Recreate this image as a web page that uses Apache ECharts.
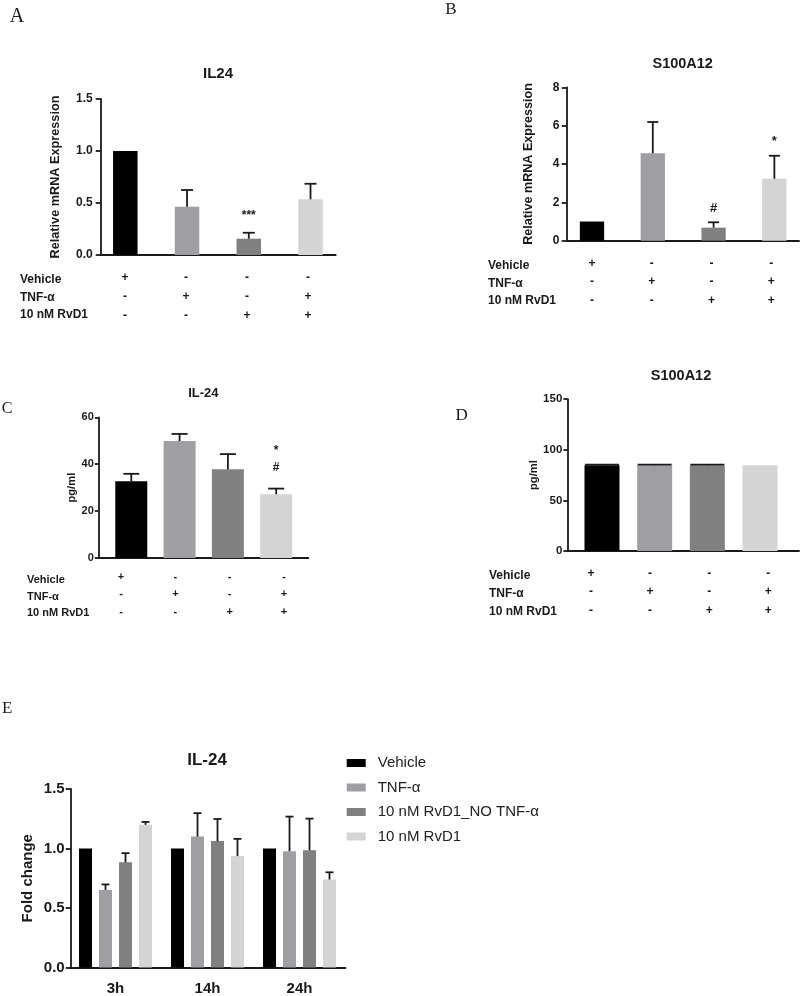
<!DOCTYPE html>
<html><head><meta charset="utf-8">
<script src="https://cdn.jsdelivr.net/npm/echarts@6/dist/echarts.min.js"></script>
<style>html,body{margin:0;padding:0;background:#fff}#c{width:800px;height:996px}</style>
</head><body><div id="c"></div>
<script>
// ---------- data ----------
const conditions = ['Vehicle', 'TNF-α', '10 nM RvD1'];
const vehicleSigns = ['+', '-', '-', '-'];
const tnfSigns = ['-', '+', '-', '+'];
const rvd1Signs = ['-', '-', '+', '+'];

const aValues = [1.0, 0.465, 0.157, 0.535];
const aErrors = [0, 0.16, 0.057, 0.15];
const aMarks = ['', '', '***', ''];

const bValues = [1.0, 4.56, 0.68, 3.23];
const bErrors = [0, 1.63, 0.28, 1.2];
const bMarks = ['', '', '#', '*'];

const cValues = [32.7, 49.9, 37.8, 27.2];
const cErrors = [3.2, 3.0, 6.5, 2.4];
const cMarks = ['', '', '', '*\n#'];

const dValues = [84.7, 84.7, 84.7, 84.7];
const dErrors = [0.6, 0.6, 0.6, 0];
const dMarks = ['', '', '', ''];

const eGroups = ['3h', '14h', '24h'];
const eSeriesNames = ['Vehicle', 'TNF-α', '10 nM RvD1_NO TNF-α', '10 nM RvD1'];
const eVehicle = [1.0, 1.0, 1.0];
const eTnf = [0.652, 1.10, 0.977];
const eNoTnf = [0.884, 1.062, 0.985];
const eRvd1 = [1.199, 0.936, 0.739];
const eVehicleErr = [0, 0, 0];
const eTnfErr = [0.046, 0.197, 0.291];
const eNoTnfErr = [0.077, 0.186, 0.266];
const eRvd1Err = [0.024, 0.145, 0.061];

// ---------- styles / layout ----------
const barColors = ['#000000', '#9e9fa3', '#808080', '#d4d4d4'];
const FONT = "'Liberation Sans', Arial, Helvetica, sans-serif";
const SERIF = "'Liberation Serif', 'Times New Roman', serif";
const INK = '#1a1a1a';

const panels = [
  { key: 'A', grid: {left: 100.7, top: 99, width: 235, height: 156},
    barMin: -0.3985, barMax: 3.408, tableMin: -0.398, tableMax: 3.454,
    yMax: 1.5, yInt: 0.5, yDec: 1, barWidth: 24.5, cap: 12, tickLen: 5, tickFont: 12, labelMargin: 8,
    yName: 'Relative mRNA Expression', nameFont: 12.7, nameGap: 38.7,
    tableFont: 12, tableLH: 19, tableMargin: 13, markFont: 12, markGap: 10, markLH: 14,
    values: aValues, errors: aErrors, marks: aMarks,
    title: 'IL24', titleX: 218, titleY: 74.2, titleFont: 15,
    letter: 'A', letterX: 17, letterY: 16.3, letterFont: 20,
    rowX: 20, rowY: [280, 297.5, 315], rowFont: 12 },
  { key: 'B', grid: {left: 566.7, top: 87.3, width: 232.3, height: 153.4},
    barMin: -0.416, barMax: 3.405, tableMin: -0.423, tableMax: 3.463,
    yMax: 8, yInt: 2, yDec: 0, barWidth: 24.3, cap: 11, tickLen: 5, tickFont: 12, labelMargin: 7.4,
    yName: 'Relative mRNA Expression', nameFont: 12.6, nameGap: 32,
    tableFont: 12, tableLH: 18.5, tableMargin: 13.5, markFont: 13, markGap: 7, markLH: 14,
    values: bValues, errors: bErrors, marks: bMarks,
    title: 'S100A12', titleX: 682.7, titleY: 63.6, titleFont: 14.5,
    letter: 'B', letterX: 451, letterY: 9.5, letterFont: 17,
    rowX: 488, rowY: [265.7, 283.3, 301], rowFont: 12 },
  { key: 'C', grid: {left: 98.3, top: 417.3, width: 210, height: 140.7},
    barMin: -0.683, barMax: 3.665, tableMin: -0.418, tableMax: 3.447,
    yMax: 60, yInt: 20, yDec: 0, barWidth: 32, cap: 16, tickLen: 3.5, tickFont: 11, labelMargin: 4.5,
    yName: 'pg/ml', nameFont: 11.2, nameGap: 20,
    tableFont: 11, tableLH: 17.7, tableMargin: 9.9, markFont: 12, markGap: 12, markLH: 17,
    values: cValues, errors: cErrors, marks: cMarks,
    title: 'IL-24', titleX: 203.3, titleY: 393.5, titleFont: 13,
    letter: 'C', letterX: 7, letterY: 408.7, letterFont: 16,
    rowX: 27, rowY: [580, 596.5, 613], rowFont: 11 },
  { key: 'D', grid: {left: 567.7, top: 399.2, width: 231.3, height: 151.8},
    barMin: -0.651, barMax: 3.74, tableMin: -0.394, tableMax: 3.52,
    yMax: 150, yInt: 50, yDec: 0, barWidth: 35, cap: 34, tickLen: 4.3, tickFont: 11.5, labelMargin: 5.4,
    yName: 'pg/ml', nameFont: 11.2, nameGap: 27,
    tableFont: 12, tableLH: 18.8, tableMargin: 12.8, markFont: 12, markGap: 8, markLH: 14,
    values: dValues, errors: dErrors, marks: dMarks,
    title: 'S100A12', titleX: 681, titleY: 375.8, titleFont: 14.5,
    letter: 'D', letterX: 461.7, letterY: 415.8, letterFont: 17,
    rowX: 489, rowY: [576, 594, 611.7], rowFont: 12 }
];

function errRender(p) {
  return function (params, api) {
    const x = api.value(0), v = api.value(1), e = api.value(2);
    const top = api.coord([x, v]);
    const et = api.coord([x, v + e]);
    const children = [];
    if (e > 0) {
      children.push({type: 'line', shape: {x1: top[0], y1: top[1], x2: et[0], y2: et[1]},
        style: {stroke: INK, lineWidth: 1.8}});
      children.push({type: 'line', shape: {x1: et[0] - p.cap / 2, y1: et[1], x2: et[0] + p.cap / 2, y2: et[1]},
        style: {stroke: INK, lineWidth: 1.8}});
    }
    const mark = p.marks[params.dataIndex];
    if (mark) {
      children.push({type: 'text', x: et[0], y: et[1] - p.markGap,
        style: {text: mark, align: 'center', verticalAlign: 'bottom', fontSize: p.markFont,
          fontWeight: 'bold', fontFamily: FONT, lineHeight: p.markLH, fill: INK}});
    }
    return {type: 'group', children};
  };
}

function errRenderE(k) {
  return function (params, api) {
    const c = api.value(0), v = api.value(1), e = api.value(2);
    if (!(e > 0)) return null;
    let off = (k - 1.5) * 20;
    if (api.barLayout) {
      const lay = api.barLayout({count: 4, barWidth: 13, barGap: '53.8%'});
      if (lay && lay[k]) off = lay[k].offsetCenter;
    }
    const top = api.coord([c, v]);
    const et = api.coord([c, v + e]);
    const x = top[0] + off;
    return {type: 'group', children: [
      {type: 'line', shape: {x1: x, y1: top[1], x2: x, y2: et[1]}, style: {stroke: INK, lineWidth: 1.8}},
      {type: 'line', shape: {x1: x - 4, y1: et[1], x2: x + 4, y2: et[1]}, style: {stroke: INK, lineWidth: 1.8}}
    ]};
  };
}

const grid = [], xAxis = [], yAxis = [], series = [], graphic = [];
function addText(text, x, y, size, weight, family, align) {
  graphic.push({type: 'text', x, y, silent: true,
    style: {text, fontSize: size, fontWeight: weight, fontFamily: family, fill: INK,
      align: align || 'center', verticalAlign: 'middle'}});
}

panels.forEach((p, i) => {
  grid.push(Object.assign({}, p.grid));
  xAxis.push({gridIndex: i, type: 'value', min: p.barMin, max: p.barMax,
    axisLine: {show: true, onZero: false, lineStyle: {color: INK, width: 1.8}},
    axisTick: {show: false}, axisLabel: {show: false}, splitLine: {show: false}});
  xAxis.push({gridIndex: i, type: 'value', position: 'bottom', min: p.tableMin, max: p.tableMax,
    axisLine: {show: false, onZero: false}, axisTick: {show: false}, splitLine: {show: false},
    axisLabel: {show: true, customValues: [0, 1, 2, 3], margin: p.tableMargin, lineHeight: p.tableLH,
      fontSize: p.tableFont, fontWeight: 'bold', fontFamily: FONT, color: INK,
      formatter: v => { const k = Math.round(v); return [vehicleSigns[k], tnfSigns[k], rvd1Signs[k]].join('\n'); }}});
  yAxis.push({gridIndex: i, type: 'value', min: 0, max: p.yMax, interval: p.yInt,
    name: p.yName, nameLocation: 'middle', nameGap: p.nameGap,
    nameTextStyle: {fontSize: p.nameFont, fontWeight: 'bold', fontFamily: FONT, color: INK},
    axisLine: {show: true, onZero: false, lineStyle: {color: INK, width: 1.8}},
    axisTick: {show: true, length: p.tickLen, lineStyle: {color: INK, width: 1.8}},
    axisLabel: {margin: p.labelMargin, fontSize: p.tickFont, fontWeight: 'bold', fontFamily: FONT, color: INK,
      formatter: v => v.toFixed(p.yDec)},
    splitLine: {show: false}});
  series.push({type: 'bar', name: p.key + ' bars', xAxisIndex: 2 * i, yAxisIndex: i, barWidth: p.barWidth,
    data: p.values.map((v, k) => ({value: [k, v], itemStyle: {color: barColors[k]}}))});
  series.push({type: 'custom', name: p.key + ' error', xAxisIndex: 2 * i, yAxisIndex: i, z: 3,
    encode: {x: 0, y: 1}, data: p.values.map((v, k) => [k, v, p.errors[k]]), renderItem: errRender(p)});
  addText(p.title, p.titleX, p.titleY, p.titleFont, 'bold', FONT);
  addText(p.letter, p.letterX, p.letterY, p.letterFont, 'normal', SERIF);
  conditions.forEach((c, r) => addText(c, p.rowX, p.rowY[r], p.rowFont, 'bold', FONT, 'left'));
});

// Panel E
const eValues = [eVehicle, eTnf, eNoTnf, eRvd1];
const eErrors = [eVehicleErr, eTnfErr, eNoTnfErr, eRvd1Err];
grid.push({left: 69.5, top: 789, width: 276, height: 182.7});
xAxis.push({gridIndex: 4, type: 'category', data: eGroups,
  axisLine: {show: true, onZero: false, lineStyle: {color: INK, width: 1.8}}, axisTick: {show: false},
  axisLabel: {margin: 13.5, fontSize: 15, fontWeight: 'bold', fontFamily: FONT, color: INK}});
yAxis.push({gridIndex: 4, type: 'value', min: 0, max: 1.5, interval: 0.5, offset: -1.2,
  name: 'Fold change', nameLocation: 'middle', nameGap: 35,
  nameTextStyle: {fontSize: 15, fontWeight: 'bold', fontFamily: FONT, color: INK},
  axisLine: {show: true, onZero: false, lineStyle: {color: INK, width: 1.8}},
  axisTick: {show: true, length: 5, lineStyle: {color: INK, width: 1.8}},
  axisLabel: {margin: 6, fontSize: 15, fontWeight: 'bold', fontFamily: FONT, color: INK, formatter: v => v.toFixed(1)},
  splitLine: {show: false}});
eSeriesNames.forEach((name, k) => {
  series.push({type: 'bar', name, xAxisIndex: 8, yAxisIndex: 4, barWidth: 13, barGap: '53.8%',
    itemStyle: {color: barColors[k]}, data: eValues[k]});
});
eSeriesNames.forEach((name, k) => {
  series.push({type: 'custom', name: name + ' error', xAxisIndex: 8, yAxisIndex: 4, z: 3,
    encode: {x: 0, y: 1}, data: eValues[k].map((v, g) => [eGroups[g], v, eErrors[k][g]]), renderItem: errRenderE(k)});
});
addText('IL-24', 207, 760.7, 17, 'bold', FONT);
addText('E', 7.2, 708.3, 17, 'normal', SERIF);

const chart = echarts.init(document.getElementById('c'), null, {renderer: 'canvas'});
chart.setOption({
  animation: false,
  backgroundColor: '#ffffff',
  grid, xAxis, yAxis, series, graphic,
  legend: {data: eSeriesNames, orient: 'vertical', left: 346.7, top: 755.5, padding: 0, itemWidth: 19, itemHeight: 8,
    itemGap: 9.5, icon: 'rect', selectedMode: false,
    textStyle: {fontSize: 15, fontFamily: FONT, color: '#222', padding: [0, 0, 0, 7]}}
});
</script>
</body></html>
